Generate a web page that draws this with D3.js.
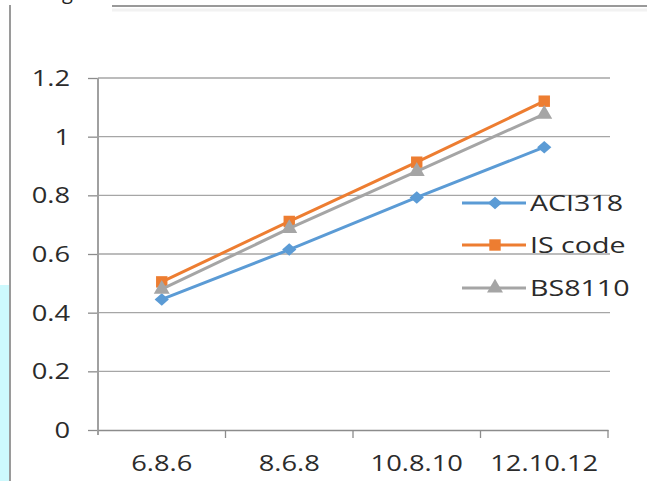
<!DOCTYPE html>
<html>
<head>
<meta charset="utf-8">
<script src="https://cdn.jsdelivr.net/npm/d3@7"></script>
<style>
  html, body { margin: 0; padding: 0; background: #fff; }
  svg { display: block; }
  text { font-family: "Open Sans", "Liberation Sans", sans-serif; fill: #2b2b2b; }
</style>
</head>
<body>
<svg id="chart" width="647" height="481"></svg>
<script>
const categories = ["6.8.6", "8.6.8", "10.8.10", "12.10.12"];
const aci318 = [0.445, 0.615, 0.793, 0.964];
const isCode = [0.505, 0.711, 0.913, 1.121];
const bs8110 = [0.48, 0.687, 0.882, 1.077];
const yTicks = [0, 0.2, 0.4, 0.6, 0.8, 1, 1.2];
const seriesNames = ["ACI318", "IS code", "BS8110"];

const series = [
  { name: seriesNames[0], values: aci318, color: "#5b9bd5", symbol: d3.symbolSquare, size: 92, extra: " scale(1.05,0.92) rotate(45)" },
  { name: seriesNames[1], values: isCode, color: "#ed7d31", symbol: d3.symbolSquare, size: 130, extra: "" },
  { name: seriesNames[2], values: bs8110, color: "#a5a5a5", symbol: d3.symbolTriangle, size: 110, extra: "" }
];

const svg = d3.select("#chart");
const stretch = 1.3;

// page decoration: left border, cyan strip, top rule, clipped heading
svg.append("rect").attr("x", 0).attr("y", 285).attr("width", 9).attr("height", 196).attr("fill", "#cdf9fd");
svg.append("line").attr("x1", 10).attr("x2", 10).attr("y1", 5).attr("y2", 481).attr("stroke", "#9a9a9a").attr("stroke-width", 2);
svg.append("line").attr("x1", 112).attr("x2", 647).attr("y1", 6).attr("y2", 6).attr("stroke", "#999").attr("stroke-width", 2);
svg.append("line").attr("x1", 112).attr("x2", 647).attr("y1", 10).attr("y2", 10).attr("stroke", "#f2f2f2").attr("stroke-width", 3);
svg.append("text").attr("x", 62).attr("y", -1).attr("font-size", 20).style("fill", "#222").text("g");

const x = d3.scaleBand().domain(categories).range([98, 608]);
const y = d3.scaleLinear().domain([0, 1.2]).range([430, 78]);
const cx = c => x(c) + x.bandwidth() / 2;

// gridlines
svg.append("g").selectAll("line").data(yTicks.filter(d => d !== 0)).join("line")
  .attr("x1", 98).attr("x2", 610)
  .attr("y1", d => y(d)).attr("y2", d => y(d))
  .attr("stroke", "#a6a6a6").attr("stroke-width", 1.3);

// y axis
const yAxis = svg.append("g").attr("transform", "translate(98,0)")
  .call(d3.axisLeft(y).tickValues(yTicks).tickSize(10).tickSizeOuter(0).tickFormat(d => String(d)));
yAxis.select(".domain").remove();
yAxis.selectAll(".tick line").attr("stroke", "#8c8c8c").attr("stroke-width", 1.3);
yAxis.selectAll(".tick text")
  .attr("x", 0).attr("dy", "0.36em")
  .attr("transform", `translate(-28,0) scale(${stretch},1)`)
  .attr("font-size", 21).style("fill", "#2b2b2b")
  .attr("font-family", "Open Sans");
yAxis.append("line").attr("x1", 0).attr("x2", 0).attr("y1", y(1.2)).attr("y2", 435)
  .attr("stroke", "#a0a0a0").attr("stroke-width", 2);

// x axis
const xAxis = svg.append("g").attr("transform", "translate(0,430)")
  .call(d3.axisBottom(x).tickSize(0).tickSizeOuter(0));
xAxis.select(".domain").attr("stroke", "#8c8c8c").attr("stroke-width", 1.5);
xAxis.selectAll(".tick text")
  .attr("y", 0).attr("dy", 0)
  .attr("transform", `translate(0,41) scale(${stretch},1)`)
  .attr("font-size", 21).style("fill", "#2b2b2b")
  .attr("font-family", "Open Sans");
svg.append("g").selectAll("line").data(categories).join("line")
  .attr("x1", d => x(d) + x.bandwidth()).attr("x2", d => x(d) + x.bandwidth())
  .attr("y1", 430).attr("y2", 438)
  .attr("stroke", "#8c8c8c").attr("stroke-width", 1.3);

// series lines & markers
const line = d3.line().x((d, i) => cx(categories[i])).y(d => y(d));
series.forEach(s => {
  svg.append("path").datum(s.values).attr("d", line)
    .attr("fill", "none").attr("stroke", s.color).attr("stroke-width", 3);
  svg.append("g").selectAll("path").data(s.values).join("path")
    .attr("d", d3.symbol(s.symbol, s.size))
    .attr("transform", (d, i) => `translate(${cx(categories[i])},${y(d)})` + s.extra)
    .attr("fill", s.color);
});

// legend
const legendY = [203, 245, 288];
series.forEach((s, i) => {
  const g = svg.append("g").attr("transform", `translate(462,${legendY[i]})`);
  g.append("line").attr("x1", 0).attr("x2", 64).attr("stroke", s.color).attr("stroke-width", 3);
  g.append("path").attr("d", d3.symbol(s.symbol, s.size)).attr("transform", "translate(33,0)" + s.extra).attr("fill", s.color);
  g.append("text").attr("transform", `translate(68,0) scale(${stretch},1)`).attr("dy", "0.36em")
    .attr("font-size", 22).text(s.name);
});
</script>
</body>
</html>
